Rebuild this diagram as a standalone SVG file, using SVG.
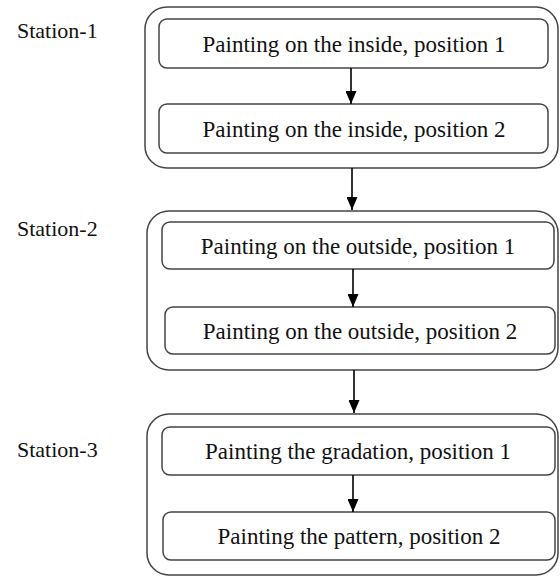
<svg xmlns="http://www.w3.org/2000/svg" width="560" height="577" viewBox="0 0 560 577">
<defs>
<marker id="ah" markerWidth="13" markerHeight="11" refX="13" refY="5.5" orient="auto" markerUnits="userSpaceOnUse" viewBox="0 0 13 11">
<path d="M0,0 L13,5.5 L0,11 Z" fill="#000"/>
</marker>
</defs>
<style>
.outer{fill:#fff;stroke:#444;stroke-width:1.5}
.inner{fill:#fff;stroke:#444;stroke-width:1.5}
.t{font-family:"Liberation Serif","Times New Roman",serif;font-size:23px;fill:#111;text-anchor:middle}
.lbl{font-family:"Liberation Serif","Times New Roman",serif;font-size:22px;fill:#111}
.c{stroke:#000;stroke-width:1.6;fill:none}
</style>
<rect width="560" height="577" fill="#fff"/>
<g id="station1">
<rect class="outer" x="145" y="7" width="413" height="161" rx="22"/>
<text class="lbl" x="17" y="38">Station-1</text>
</g>
<g id="node1"><rect class="inner" x="159" y="19" width="389" height="49" rx="8"/><text class="t" x="354" y="52">Painting on the inside, position 1</text></g>
<g id="node2"><rect class="inner" x="159" y="104" width="389" height="49" rx="8"/><text class="t" x="354" y="137">Painting on the inside, position 2</text></g>
<g id="station2">
<rect class="outer" x="147" y="211" width="411" height="159" rx="22"/>
<text class="lbl" x="17" y="236">Station-2</text>
</g>
<g id="node3"><rect class="inner" x="162" y="222" width="392" height="47" rx="8"/><text class="t" x="358" y="254">Painting on the outside, position 1</text></g>
<g id="node4"><rect class="inner" x="165" y="307" width="390" height="47" rx="8"/><text class="t" x="360" y="339">Painting on the outside, position 2</text></g>
<g id="station3">
<rect class="outer" x="147" y="414" width="411" height="161" rx="22"/>
<text class="lbl" x="17" y="457">Station-3</text>
</g>
<g id="node5"><rect class="inner" x="162" y="427" width="393" height="48" rx="8"/><text class="t" x="358" y="459">Painting the gradation, position 1</text></g>
<g id="node6"><rect class="inner" x="163" y="512" width="392" height="48" rx="8"/><text class="t" x="359" y="544">Painting the pattern, position 2</text></g>
<g id="connectors">
<line class="c" x1="351" y1="68" x2="351" y2="104" marker-end="url(#ah)"/>
<line class="c" x1="352" y1="168" x2="352" y2="210" marker-end="url(#ah)"/>
<line class="c" x1="353" y1="269" x2="353" y2="307" marker-end="url(#ah)"/>
<line class="c" x1="354" y1="370" x2="354" y2="413" marker-end="url(#ah)"/>
<line class="c" x1="353" y1="475" x2="353" y2="512" marker-end="url(#ah)"/>
</g>
</svg>
